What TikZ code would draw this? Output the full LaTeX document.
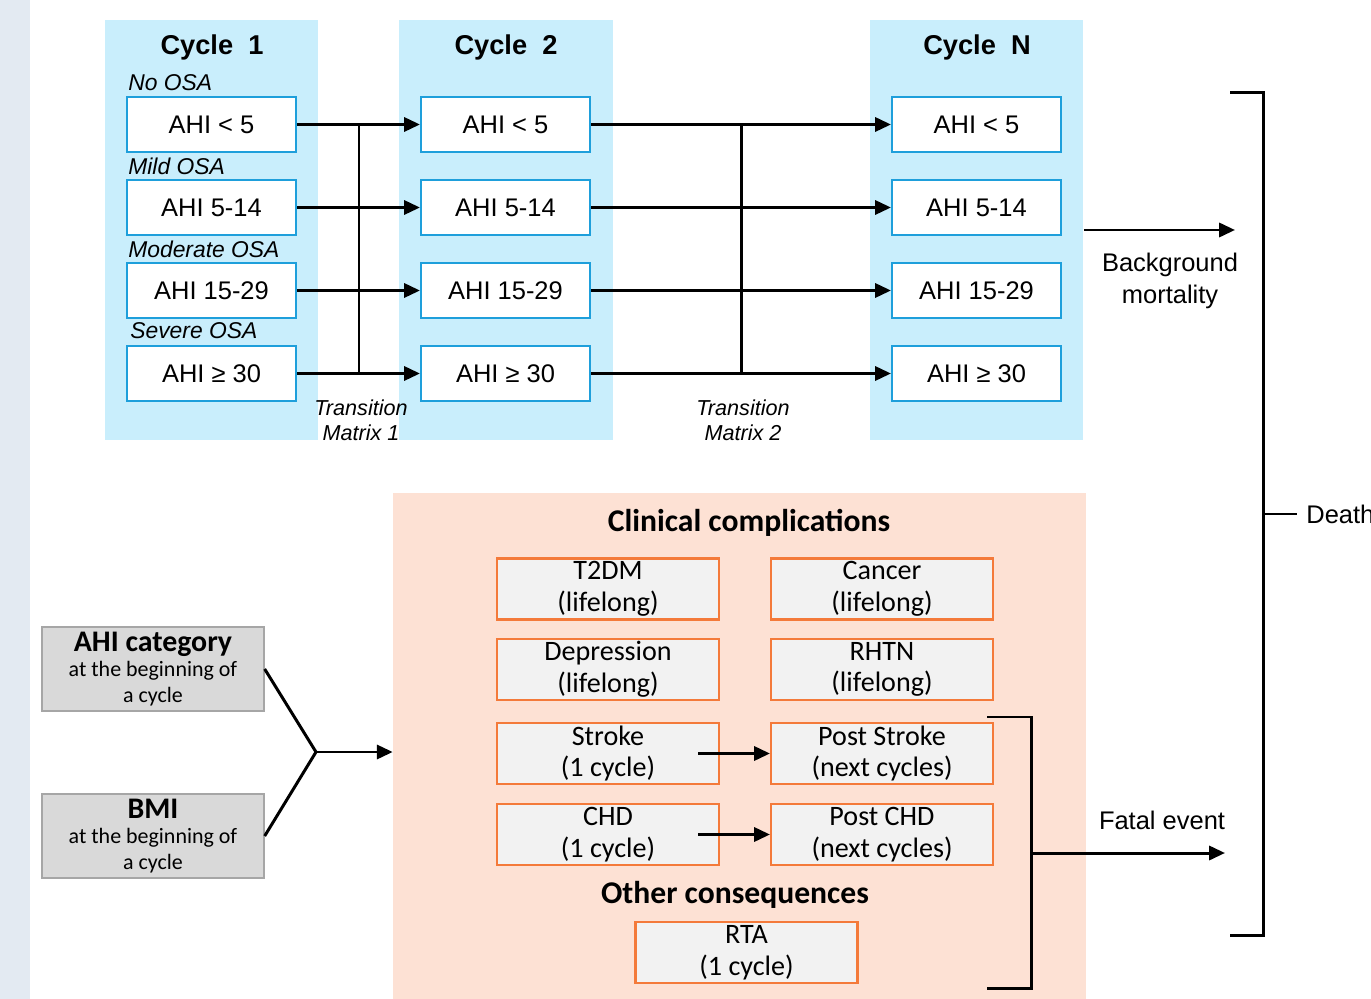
\documentclass[tikz,border=0pt]{standalone}
\usepackage{fontspec}
\setmainfont{Liberation Sans}
\newfontfamily\calfont{Carlito}
\usetikzlibrary{arrows.meta}
\definecolor{cyclefill}{HTML}{C9EEFC}
\definecolor{cycleline}{HTML}{1E9FDB}
\definecolor{compfill}{HTML}{FDE1D4}
\definecolor{compline}{HTML}{F47A3A}
\definecolor{compbox}{HTML}{F2F2F2}
\definecolor{inputfill}{HTML}{D9D9D9}
\definecolor{inputline}{HTML}{A6A6A6}
\definecolor{sidestrip}{HTML}{E3EAF2}

\begin{document}
\begin{tikzpicture}[
            x=0.02cm, y=-0.02cm,
            panel/.style={rectangle, fill=cyclefill, minimum width=4.28cm, minimum height=8.4cm, inner sep=0pt},
            comppanel/.style={rectangle, fill=compfill, minimum width=13.86cm, minimum height=10.3cm, inner sep=0pt},
            cycletitle/.style={font=\fontsize{15.5}{18}\selectfont\bfseries},
            osalabel/.style={anchor=west, inner sep=0pt, font=\fontsize{13}{15}\selectfont\itshape},
            ahibox/.style={rectangle, draw=cycleline, line width=1.2pt, fill=white, minimum width=3.38cm, minimum height=1.1cm, font=\fontsize{14.5}{17}\selectfont},
            compbox/.style={rectangle, draw=compline, line width=1.2pt, fill=compbox, minimum width=4.44cm, minimum height=1.22cm, inner sep=0pt, align=center, font=\calfont\fontsize{16}{18}\selectfont},
            inputbox/.style={rectangle, draw=inputline, line width=0.8pt, fill=inputfill, minimum width=4.44cm, minimum height=1.68cm, inner sep=0pt, align=center, font=\calfont\fontsize{12.5}{14.5}\selectfont},
            note/.style={align=center, font=\fontsize{12.3}{14}\selectfont\itshape},
            sidelabel/.style={align=center, font=\fontsize{14.5}{18}\selectfont},
            comptitle/.style={font=\calfont\fontsize{18}{20}\selectfont\bfseries},
            conn/.style={line width=1.7pt},
            arrow/.style={conn, -{Triangle[length=9pt,width=8pt]}}
        ]
            \useasboundingbox (0,0) rectangle (1371,999);
            \fill[sidestrip] (0,0) rectangle (30,999);

            % Cycle panels
            \node[panel] (pnl1) at (211.5,230) {};
            \node[panel] (pnl2) at (506,230) {};
            \node[panel] (pnlN) at (976.5,230) {};
            \node[cycletitle] (t1) at (212,47) {Cycle\ \ 1};
            \node[cycletitle] (t2) at (506,47) {Cycle\ \ 2};
            \node[cycletitle] (tN) at (977,47) {Cycle\ \ N};

            % OSA categories
            \node[osalabel] (lno) at (128,83) {No OSA};
            \node[osalabel] (lmild) at (128,166) {Mild OSA};
            \node[osalabel] (lmod) at (128,249) {Moderate OSA};
            \node[osalabel] (lsev) at (130,331) {Severe OSA};

            % Cycle 1
            \node[ahibox] (c1a) at (211.5,124.5) {AHI < 5};
            \node[ahibox] (c1b) at (211.5,207.5) {AHI 5-14};
            \node[ahibox] (c1c) at (211.5,290.5) {AHI 15-29};
            \node[ahibox] (c1d) at (211.5,373.5) {AHI ≥ 30};

            % Cycle 2
            \node[ahibox] (c2a) at (505.5,124.5) {AHI < 5};
            \node[ahibox] (c2b) at (505.5,207.5) {AHI 5-14};
            \node[ahibox] (c2c) at (505.5,290.5) {AHI 15-29};
            \node[ahibox] (c2d) at (505.5,373.5) {AHI ≥ 30};

            % Cycle N
            \node[ahibox] (cNa) at (976.5,124.5) {AHI < 5};
            \node[ahibox] (cNb) at (976.5,207.5) {AHI 5-14};
            \node[ahibox] (cNc) at (976.5,290.5) {AHI 15-29};
            \node[ahibox] (cNd) at (976.5,373.5) {AHI ≥ 30};

            % Transitions
            \coordinate (tm1) at (359,125);
            \coordinate (tm2) at (741,125);
            \draw[arrow] (c1a.east) -- (c2a.west);
            \draw[arrow] (c1b.east) -- (c2b.west);
            \draw[arrow] (c1c.east) -- (c2c.west);
            \draw[arrow] (c1d.east) -- (c2d.west);
            \draw[conn] (c1a.east -| tm1) -- (c1d.east -| tm1);
            \draw[arrow] (c2a.east) -- (cNa.west);
            \draw[arrow] (c2b.east) -- (cNb.west);
            \draw[arrow] (c2c.east) -- (cNc.west);
            \draw[arrow] (c2d.east) -- (cNd.west);
            \draw[conn] (c2a.east -| tm2) -- (c2d.east -| tm2);
            \node[note] (tmat1) at (361,420) {Transition\\Matrix 1};
            \node[note] (tmat2) at (743,420) {Transition\\Matrix 2};

            % Background mortality and death
            \coordinate (bgend) at (1235,230);
            \draw[arrow] (pnlN.east) -- (bgend);
            \node[sidelabel] (bgm) at (1170,281) {Background\\mortality};
            \coordinate (bkt) at (1230,93);
            \coordinate (bkb) at (1230,935);
            \coordinate (dtick) at (1263,514);
            \draw[conn] (bkt) -- (bkt -| dtick) -- (bkb -| dtick) -- (bkb);
            \node[sidelabel, anchor=west, inner sep=0pt] (death) at (1306,514) {Death};
            \draw[conn] (dtick) -- ([xshift=-0.18cm]death.west);

            % Clinical complications
            \node[comppanel] (comp) at (739.5,750) {};
            \node[comptitle] (cctitle) at (749,523) {Clinical complications};
            \node[compbox] (t2dm) at (608,589) {T2DM\\(lifelong)};
            \node[compbox] (cancer) at (882,589) {Cancer\\(lifelong)};
            \node[compbox] (depr) at (608,669.5) {Depression\\(lifelong)};
            \node[compbox] (rhtn) at (882,669.5) {RHTN\\(lifelong)};
            \node[compbox] (stroke) at (608,753.5) {Stroke\\(1 cycle)};
            \node[compbox] (pstroke) at (882,753.5) {Post Stroke\\(next cycles)};
            \node[compbox] (chd) at (608,834.5) {CHD\\(1 cycle)};
            \node[compbox] (pchd) at (882,834.5) {Post CHD\\(next cycles)};
            \draw[arrow] ([xshift=-0.44cm]stroke.east) -- (pstroke.west);
            \draw[arrow] ([xshift=-0.44cm]chd.east) -- (pchd.west);
            \node[comptitle] (octitle) at (735,895) {Other consequences};
            \node[compbox] (rta) at (746.5,952.5) {RTA\\(1 cycle)};

            % Fatal event
            \coordinate (ibt) at (987,717);
            \coordinate (ibb) at (987,988);
            \coordinate (fjoin) at (1031,853);
            \coordinate (fend) at (1225,853);
            \draw[conn] (ibt) -- (ibt -| fjoin) -- (ibb -| fjoin) -- (ibb);
            \draw[arrow] (fjoin) -- (fend);
            \node[sidelabel] (fatal) at (1162,820) {Fatal event};

            % Inputs
            \node[inputbox] (ahicat) at (153,669) {{\fontsize{17}{20}\selectfont\bfseries AHI category}\\at the beginning of\\a cycle};
            \node[inputbox] (bmi) at (153,836) {{\fontsize{17}{20}\selectfont\bfseries BMI}\\at the beginning of\\a cycle};
            \coordinate (join) at (316,752);
            \draw[conn] (ahicat.east) -- (join);
            \draw[conn] (bmi.east) -- (join);
            \draw[arrow] (join) -- (comp.west |- join);
        \end{tikzpicture}
\end{document}
